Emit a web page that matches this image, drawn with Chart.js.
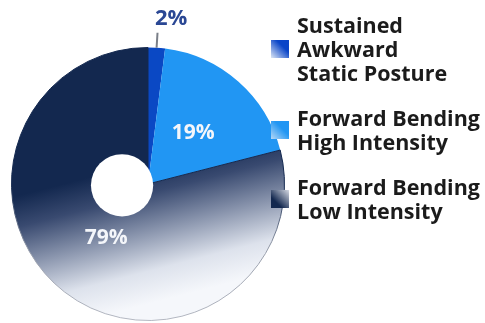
<!DOCTYPE html>
<html>
<head>
<meta charset="utf-8">
<script src="https://cdn.jsdelivr.net/npm/chart.js@4.4.0/dist/chart.umd.min.js"></script>
<style>
body { margin: 0; background: #fff; }
#wrap { position: relative; width: 485px; height: 323px; }
#legend { position: absolute; left: 271px; top: 13px; font-family: "Open Sans", sans-serif; font-weight: 700; font-size: 21.5px; line-height: 24px; color: #1b1b1b; }
.item { display: flex; align-items: center; margin-bottom: 21px; }
.box { width: 18px; height: 18px; margin-right: 8px; flex: none; }
</style>
</head>
<body>
<div id="wrap">
  <canvas id="postureChart" width="485" height="323"></canvas>
  <div id="legend"></div>
</div>
<script>
// data
var labels = [
    ['Sustained', 'Awkward', 'Static Posture'],
    ['Forward Bending', 'High Intensity'],
    ['Forward Bending', 'Low Intensity']
];
var percents = [2, 19, 79];

var boxStyles = [
    'linear-gradient(to bottom left, #0a45c8 35%, #dde7f5)',
    'linear-gradient(to bottom left, #2196f3 40%, #b5d8f6)',
    'linear-gradient(to top right, #13284f 30%, #d4d8e2)'
];

function lowIntensityFill(ctx, area) {
    var cx = (area.left + area.right) / 2;
    var cy = (area.top + area.bottom) / 2;
    var r = (area.bottom - area.top) / 2;
    var g = ctx.createLinearGradient(cx - 0.15 * r, cy - 0.12 * r, cx + 0.1 * r, cy + 0.85 * r);
    g.addColorStop(0, '#13284f');
    g.addColorStop(0.22, '#394a70');
    g.addColorStop(0.5, '#8c97af');
    g.addColorStop(0.77, '#dde2ec');
    g.addColorStop(1, '#f5f7fb');
    return g;
}

function lowIntensityBorder(ctx, area) {
    var g = ctx.createLinearGradient(0, area.top, 0, area.bottom);
    g.addColorStop(0, '#13284f');
    g.addColorStop(0.5, '#13284f');
    g.addColorStop(0.75, '#9aa0ad');
    g.addColorStop(1, '#b4b8c2');
    return g;
}

// offset hole + percent labels
var piePlugin = {
    id: 'pieExtras',
    afterDatasetsDraw: function (chart) {
        var ctx = chart.ctx;
        var arcs = chart.getDatasetMeta(0).data;
        var cx = arcs[0].x, cy = arcs[0].y, r = arcs[0].outerRadius;

        ctx.save();
        ctx.fillStyle = '#ffffff';
        ctx.beginPath();
        ctx.arc(cx - 0.19 * r, cy + 0.01 * r, 0.228 * r, 0, Math.PI * 2);
        ctx.fill();

        ctx.textAlign = 'center';
        ctx.textBaseline = 'middle';
        ctx.font = '700 21px "Open Sans"';
        arcs.forEach(function (arc, i) {
            var mid = (arc.startAngle + arc.endAngle) / 2;
            var cos = Math.cos(mid), sin = Math.sin(mid);
            if (percents[i] < 5) {
                ctx.strokeStyle = '#7a7f88';
                ctx.lineWidth = 2;
                ctx.beginPath();
                ctx.moveTo(cx + cos * r, cy + sin * r);
                ctx.lineTo(cx + cos * r * 1.11, cy + sin * r * 1.11);
                ctx.stroke();
                ctx.fillStyle = '#2a4794';
                ctx.font = '700 22px "Open Sans"';
                ctx.fillText(percents[i] + '%', cx + 0.17 * r, cy + sin * r * 1.21);
            } else {
                ctx.fillStyle = '#f4f6fa';
                ctx.font = '700 21px "Open Sans"';
                ctx.fillText(percents[i] + '%', cx + cos * r * 0.5, cy + sin * r * 0.5);
            }
        });
        ctx.restore();
    }
};

var ctx1 = document.getElementById('postureChart').getContext('2d');
var postureChart = new Chart(ctx1, {
    type: 'pie',
    data: {
        labels: labels,
        datasets: [{
            data: percents,
            backgroundColor: function (c) {
                var area = c.chart.chartArea;
                if (c.dataIndex === 0) return '#0a48c4';
                if (c.dataIndex === 1) return '#2196f3';
                if (!area) return '#13284f';
                return lowIntensityFill(c.chart.ctx, area);
            },
            borderColor: function (c) {
                var area = c.chart.chartArea;
                if (c.dataIndex !== 2 || !area) return 'rgba(0,0,0,0)';
                return lowIntensityBorder(c.chart.ctx, area);
            },
            borderWidth: [0, 0, 1]
        }]
    },
    options: {
        responsive: false,
        animation: false,
        layout: {
            padding: { left: 11, right: 200, top: 47, bottom: 2 }
        },
        plugins: {
            legend: { display: false },
            tooltip: { enabled: false }
        }
    },
    plugins: [piePlugin]
});

// html legend
var legendEl = document.getElementById('legend');
labels.forEach(function (lines, i) {
    var item = document.createElement('div');
    item.className = 'item';
    var box = document.createElement('span');
    box.className = 'box';
    box.style.background = boxStyles[i];
    var txt = document.createElement('span');
    txt.innerHTML = lines.join('<br>');
    item.appendChild(box);
    item.appendChild(txt);
    legendEl.appendChild(item);
});
</script>
</body>
</html>
